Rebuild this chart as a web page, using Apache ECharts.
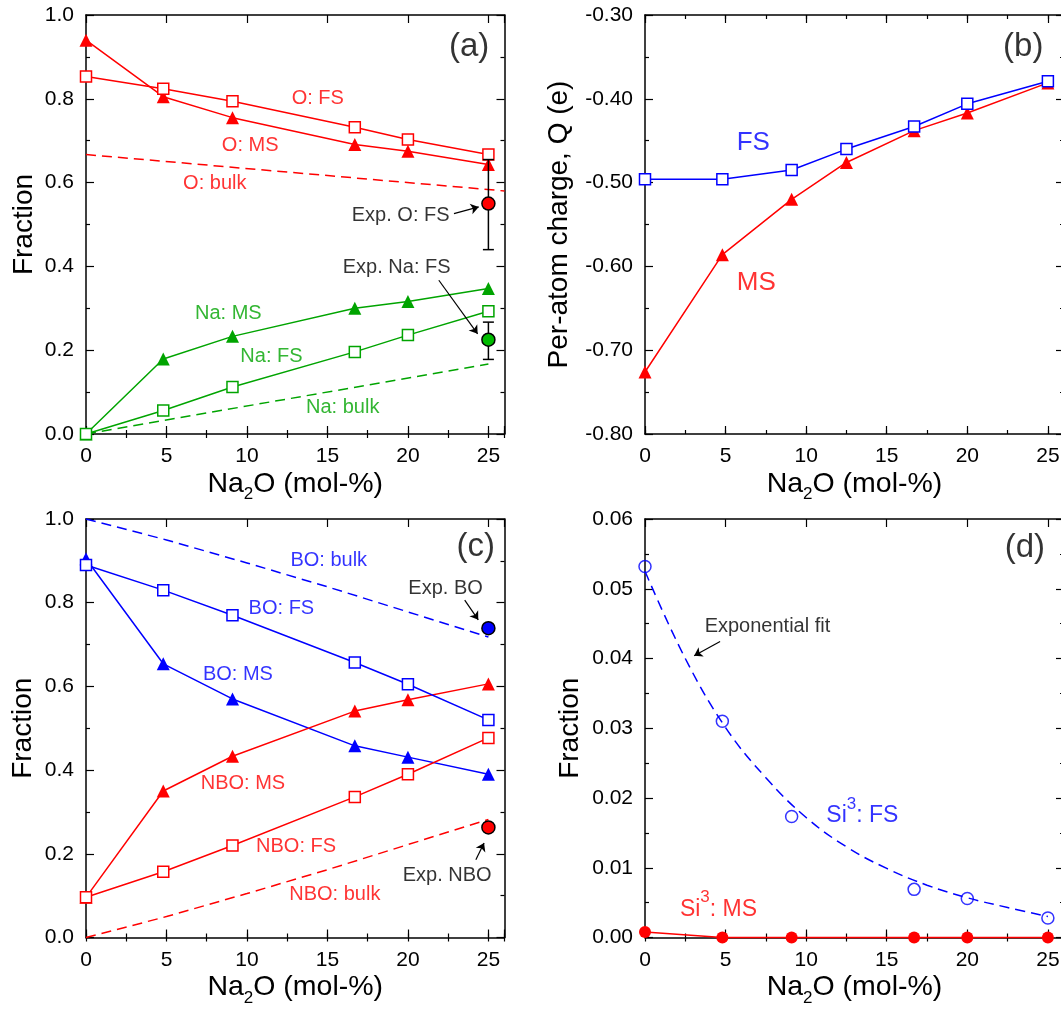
<!DOCTYPE html>
<html><head><meta charset="utf-8">
<script src="https://cdn.jsdelivr.net/npm/echarts@6/dist/echarts.min.js"></script>
<style>html,body{margin:0;padding:0;background:#fff}#c{width:1061px;height:1012px}</style>
</head><body><div id="c"></div>
<script>
// ---------------- DATA ----------------
// Panel (a): surface fractions of O and Na
const xA = [0, 4.8, 9.1, 16.7, 20, 25];
const oMS = [0.940, 0.805, 0.755, 0.691, 0.675, 0.643];
const oFS = [0.853, 0.824, 0.794, 0.732, 0.703, 0.667];
const naMS = [0.0, 0.179, 0.233, 0.300, 0.316, 0.347];
const naFS = [0.0, 0.056, 0.112, 0.196, 0.236, 0.293];
const oBulkX = [0, 26];
const oBulk = [0.667, 0.580];
const naBulkX = [0, 25];
const naBulk = [0.0, 0.167];
const expOFS = [25, 0.550, 0.440, 0.655];   // x, value, low, high
const expNaFS = [25, 0.225, 0.178, 0.267];

// Panel (b): per-atom charge
const xB = [0, 4.8, 9.1, 12.5, 16.7, 20, 25];
const qFS = [-0.496, -0.496, -0.485, -0.460, -0.433, -0.406, -0.379];
const qMS = [-0.726, -0.586, -0.520, -0.476, -0.438, -0.417, -0.381];

// Panel (c): BO / NBO fractions
const xC = [0, 4.8, 9.1, 16.7, 20, 25];
const boFS = [0.890, 0.830, 0.770, 0.657, 0.605, 0.520];
const boMS = [0.905, 0.654, 0.570, 0.458, 0.431, 0.390];
const nboMS = [0.096, 0.350, 0.433, 0.541, 0.568, 0.606];
const nboFS = [0.096, 0.157, 0.220, 0.336, 0.390, 0.477];
const bulkX = [0, 5, 10, 15, 20, 25];
const boBulk = [1.0, 0.950, 0.895, 0.838, 0.778, 0.718];
const nboBulk = [0.0, 0.050, 0.105, 0.162, 0.222, 0.282];
const expBO = [25, 0.739];
const expNBO = [25, 0.263];

// Panel (d): Si3 fractions
const xD = [0, 4.8, 9.1, 16.7, 20, 25];
const si3FS = [0.0532, 0.0310, 0.01735, 0.0069, 0.0056, 0.0028];
const si3MS = [0.0008, 0, 0, 0, 0, 0];
const fitX = [0, 2.5, 5, 7.5, 10, 12.5, 15, 17.5, 20, 22.5, 25];
const fitY = [0.0525, 0.0400, 0.0301, 0.0229, 0.0172, 0.0130, 0.0099, 0.0075, 0.0057, 0.0043, 0.0030];

const xTickLabels = ['0', '5', '10', '15', '20', '25'];

// ---------------- STYLE / LAYOUT ----------------
const FONT = '"Liberation Sans", Arial, Helvetica, sans-serif';
const RED = '#ff0000', GREEN = '#00a400', BLUE = '#0000ff', BLACK = '#000000';
const AX = {color: BLACK, width: 1.5};
const TK = {color: BLACK, width: 1.2};

const grids = [
  {left: 86, top: 15, width: 418.5, height: 419},
  {left: 645, top: 15, width: 419, height: 419},
  {left: 86, top: 519, width: 418.5, height: 418.5},
  {left: 645, top: 519, width: 419, height: 418.5}
].map(g => Object.assign({outerBoundsMode: 'none', containLabel: false}, g));

const yCfg = [
  {min: 0, max: 1, interval: 0.2, dec: 1, name: 'Fraction', gap: 47},
  {min: -0.8, max: -0.3, interval: 0.1, dec: 2, name: 'Per-atom charge, Q (e)', gap: 71},
  {min: 0, max: 1, interval: 0.2, dec: 1, name: 'Fraction', gap: 48},
  {min: 0, max: 0.06, interval: 0.01, dec: 2, name: 'Fraction', gap: 60}
];

function xAxes(g) {
  const base = {type: 'value', gridIndex: g, min: 0, max: 26, splitLine: {show: false},
    axisLine: {show: true, onZero: false, lineStyle: AX}};
  const lab = {show: true, margin: 12, fontSize: 21, color: BLACK, fontFamily: FONT,
    formatter: v => { const i = xTickLabels.indexOf(String(Math.round(v * 100) / 100)); return i >= 0 ? xTickLabels[i] : ''; }};
  return [
    Object.assign({}, base, {position: 'bottom', interval: 5,
      axisTick: {show: true, inside: true, length: 8, lineStyle: TK}, axisLabel: lab,
      name: 'Na{sub|2}O (mol-%)', nameLocation: 'middle', nameGap: 31, nameMoveOverlap: false,
      nameTextStyle: {fontSize: 28.5, color: BLACK, fontFamily: FONT, lineHeight: 38,
        rich: {sub: {fontSize: 17, lineHeight: 17, verticalAlign: 'bottom', color: BLACK, fontFamily: FONT}}}}),
    Object.assign({}, base, {position: 'bottom', interval: 2.5, axisLine: {show: false},
      axisTick: {show: true, inside: true, length: 4, lineStyle: TK}, axisLabel: {show: false}}),
    Object.assign({}, base, {position: 'top', interval: 5,
      axisTick: {show: true, inside: true, length: 8, lineStyle: TK}, axisLabel: {show: false}}),
    Object.assign({}, base, {position: 'top', interval: 2.5, axisLine: {show: false},
      axisTick: {show: true, inside: true, length: 4, lineStyle: TK}, axisLabel: {show: false}})
  ];
}

function yAxes(g) {
  const c = yCfg[g];
  const base = {type: 'value', gridIndex: g, min: c.min, max: c.max, interval: c.interval,
    splitLine: {show: false}, minorSplitLine: {show: false},
    axisLine: {show: true, onZero: false, lineStyle: AX},
    axisTick: {show: true, inside: true, length: 8, lineStyle: TK},
    minorTick: {show: true, splitNumber: 2, length: 4, lineStyle: TK}};
  return [
    Object.assign({}, base, {position: 'left',
      axisLabel: {show: true, margin: 12, fontSize: 21, color: BLACK, fontFamily: FONT,
        formatter: v => Number(v).toFixed(c.dec)},
      name: c.name, nameLocation: 'middle', nameGap: c.gap, nameRotate: 90, nameMoveOverlap: false,
      nameTextStyle: {fontSize: 28, color: BLACK, fontFamily: FONT, lineHeight: 30}}),
    Object.assign({}, base, {position: 'right', axisLabel: {show: false}})
  ];
}

const pairs = (xs, ys) => xs.map((x, i) => [x, ys[i]]);
const ax = g => ({xAxisIndex: 4 * g, yAxisIndex: 2 * g});

function triLine(g, xs, ys, color) {
  return Object.assign({type: 'line', data: pairs(xs, ys), symbol: 'triangle', symbolSize: 13,
    itemStyle: {color: color}, lineStyle: {color: color, width: 1.5}, clip: false, silent: true, z: 3}, ax(g));
}
function sqLine(g, xs, ys, color) {
  return Object.assign({type: 'line', data: pairs(xs, ys), symbol: 'rect', symbolSize: 11,
    itemStyle: {color: '#ffffff', borderColor: color, borderWidth: 1.5},
    lineStyle: {color: color, width: 1.5}, clip: false, silent: true, z: 4}, ax(g));
}
function dashLine(g, xs, ys, color, smooth) {
  return Object.assign({type: 'line', data: pairs(xs, ys), symbol: 'none', smooth: smooth || false,
    lineStyle: {color: color, width: 1.5, type: [10, 6]}, clip: false, silent: true, z: 2}, ax(g));
}
function expPoint(g, p, color) {
  return Object.assign({type: 'scatter', data: [[p[0], p[1]]], symbol: 'circle', symbolSize: 13,
    itemStyle: {color: color, borderColor: BLACK, borderWidth: 1.5, opacity: 1}, clip: false, silent: true, z: 6}, ax(g));
}
function errBars(g, list) {
  return Object.assign({type: 'custom', data: list.map(p => [p[0], p[2], p[3]]), encode: {x: 0, y: [1, 2]},
    clip: false, silent: true, z: 5,
    renderItem: (params, api) => {
      const x = api.value(0);
      const lo = api.coord([x, api.value(1)]), hi = api.coord([x, api.value(2)]);
      const w = 5.5, st = {stroke: BLACK, lineWidth: 1.5};
      return {type: 'group', children: [
        {type: 'line', shape: {x1: lo[0], y1: lo[1], x2: hi[0], y2: hi[1]}, style: st},
        {type: 'line', shape: {x1: lo[0] - w, y1: lo[1], x2: lo[0] + w, y2: lo[1]}, style: st},
        {type: 'line', shape: {x1: hi[0] - w, y1: hi[1], x2: hi[0] + w, y2: hi[1]}, style: st}
      ]};
    }}, ax(g));
}
function textSeries(g, items, arrows) {
  const s = Object.assign({type: 'scatter', symbol: 'circle', symbolSize: 1, itemStyle: {color: 'transparent'},
    silent: true, clip: false, z: 10,
    data: items.map(t => ({value: [t.x, t.y], label: {show: true, position: 'inside', formatter: t.text,
      color: t.color, fontSize: t.size || 20, fontFamily: FONT, lineHeight: t.lh || 26,
      rich: {sup: {fontSize: 17, lineHeight: 17, verticalAlign: 'top', color: t.color, fontFamily: FONT}}}}))}, ax(g));
  if (arrows && arrows.length) {
    s.markLine = {silent: true, animation: false, symbol: ['none', 'arrow'], symbolSize: 8,
      label: {show: false}, lineStyle: {color: BLACK, width: 1.2, type: 'solid'},
      emphasis: {disabled: true},
      data: arrows.map(a => [{coord: [a[0], a[1]]}, {coord: [a[2], a[3]]}])};
  }
  return s;
}

const series = [
  // (a)
  dashLine(0, oBulkX, oBulk, RED),
  dashLine(0, naBulkX, naBulk, GREEN),
  triLine(0, xA, oMS, RED),
  sqLine(0, xA, oFS, RED),
  triLine(0, xA, naMS, GREEN),
  sqLine(0, xA, naFS, GREEN),
  errBars(0, [expOFS, expNaFS]),
  expPoint(0, expOFS, RED),
  expPoint(0, expNaFS, '#00bb00'),
  textSeries(0, [
    {x: 14.4, y: 0.801, text: 'O: FS', color: RED},
    {x: 10.2, y: 0.689, text: 'O: MS', color: RED},
    {x: 8.0, y: 0.599, text: 'O: bulk', color: RED},
    {x: 19.55, y: 0.522, text: 'Exp. O: FS', color: BLACK},
    {x: 19.3, y: 0.398, text: 'Exp. Na: FS', color: BLACK},
    {x: 8.84, y: 0.287, text: 'Na: MS', color: GREEN},
    {x: 11.52, y: 0.185, text: 'Na: FS', color: GREEN},
    {x: 15.95, y: 0.064, text: 'Na: bulk', color: GREEN},
    {x: 23.8, y: 0.924, text: '(a)', color: BLACK, size: 33}
  ], [[22.86, 0.526, 24.4, 0.542], [21.92, 0.367, 24.33, 0.239]]),
  // (b)
  triLine(1, xB, qMS, RED),
  sqLine(1, xB, qFS, BLUE),
  textSeries(1, [
    {x: 6.72, y: -0.453, text: 'FS', color: BLUE, size: 26},
    {x: 6.91, y: -0.620, text: 'MS', color: RED, size: 26},
    {x: 23.47, y: -0.338, text: '(b)', color: BLACK, size: 33}
  ]),
  // (c)
  dashLine(2, bulkX, boBulk, BLUE),
  dashLine(2, bulkX, nboBulk, RED),
  triLine(2, xC, boMS, BLUE),
  triLine(2, xC, nboMS, RED),
  sqLine(2, xC, boFS, BLUE),
  sqLine(2, xC, nboFS, RED),
  expPoint(2, expBO, BLUE),
  expPoint(2, expNBO, RED),
  textSeries(2, [
    {x: 15.08, y: 0.900, text: 'BO: bulk', color: BLUE},
    {x: 12.14, y: 0.786, text: 'BO: FS', color: BLUE},
    {x: 9.44, y: 0.629, text: 'BO: MS', color: BLUE},
    {x: 9.75, y: 0.367, text: 'NBO: MS', color: RED},
    {x: 13.05, y: 0.217, text: 'NBO: FS', color: RED},
    {x: 15.46, y: 0.103, text: 'NBO: bulk', color: RED},
    {x: 22.34, y: 0.834, text: 'Exp. BO', color: BLACK},
    {x: 22.44, y: 0.149, text: 'Exp. NBO', color: BLACK},
    {x: 24.22, y: 0.934, text: '(c)', color: BLACK, size: 33}
  ], [[23.53, 0.806, 24.37, 0.759], [24.22, 0.186, 24.73, 0.226]]),
  // (d)
  dashLine(3, fitX, fitY, BLUE, 0.4),
  Object.assign({type: 'line', data: pairs(xD, si3MS), symbol: 'circle', symbolSize: 12,
    itemStyle: {color: RED}, lineStyle: {color: RED, width: 1.5}, clip: false, silent: true, z: 3}, ax(3)),
  Object.assign({type: 'scatter', data: pairs(xD, si3FS), symbol: 'circle', symbolSize: 12,
    itemStyle: {color: 'transparent', borderColor: BLUE, borderWidth: 1.5}, clip: false, silent: true, z: 4}, ax(3)),
  textSeries(3, [
    {x: 7.6, y: 0.04455, text: 'Exponential fit', color: BLACK, size: 20},
    {x: 13.49, y: 0.01745, text: 'Si{sup|3}: FS', color: BLUE, size: 23, lh: 40},
    {x: 4.56, y: 0.00406, text: 'Si{sup|3}: MS', color: RED, size: 23, lh: 40},
    {x: 23.57, y: 0.0559, text: '(d)', color: BLACK, size: 33}
  ], [[4.66, 0.04245, 3.05, 0.0404]])
];

const option = {
  animation: false,
  backgroundColor: '#ffffff',
  textStyle: {fontFamily: FONT},
  grid: grids,
  xAxis: [0, 1, 2, 3].flatMap(xAxes),
  yAxis: [0, 1, 2, 3].flatMap(yAxes),
  series: series
};

const chart = echarts.init(document.getElementById('c'), null, {renderer: 'canvas'});
chart.setOption(option);
</script>
</body></html>
